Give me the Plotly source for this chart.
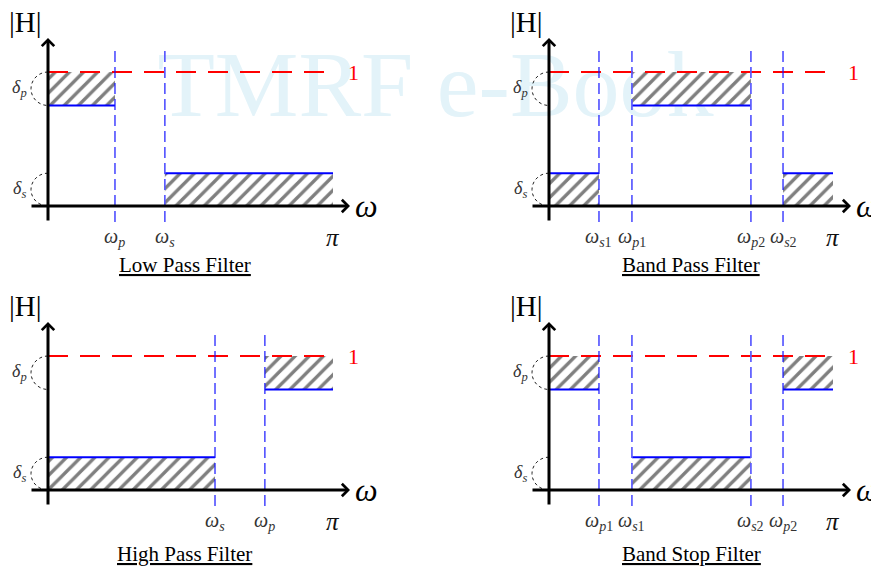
import plotly.graph_objects as go

W, H = 871, 567

# Tolerance scheme (magnitude normalised to unity gain)
unity_gain = 1.0
passband_ripple = 0.25     # delta_p
stopband_level = 0.245     # delta_s

# Band edges, as fractions of pi
lowpass_edges = [0.235, 0.41]
highpass_edges = [0.586, 0.761]
bandpass_edges = [0.176, 0.292, 0.711, 0.824]
bandstop_edges = [0.176, 0.292, 0.711, 0.824]

# Edge names: (letter, index)
lowpass_names = [("p", ""), ("s", "")]
highpass_names = [("s", ""), ("p", "")]
bandpass_names = [("s", "1"), ("p", "1"), ("p", "2"), ("s", "2")]
bandstop_names = [("p", "1"), ("s", "1"), ("s", "2"), ("p", "2")]

# Dashed edge-line shade: True = dark/thin, False = light/thick
lowpass_dark = [True, False]
highpass_dark = [True, True]
bandpass_dark = [True, False, False, True]
bandstop_dark = [True, False, False, True]

titles = ["Low Pass Filter", "Band Pass Filter", "High Pass Filter", "Band Stop Filter"]

lp, hp, bp, bs = lowpass_edges, highpass_edges, bandpass_edges, bandstop_edges
lowpass_bands = [("pass", 0.0, lp[0]), ("stop", lp[1], 1.0)]
highpass_bands = [("stop", 0.0, hp[0]), ("pass", hp[1], 1.0)]
bandpass_bands = [("stop", 0.0, bp[0]), ("pass", bp[1], bp[2]), ("stop", bp[3], 1.0)]
bandstop_bands = [("pass", 0.0, bs[0]), ("stop", bs[1], bs[2]), ("pass", bs[3], 1.0)]

# Panel geometry: pixel origin of (w=0,|H|=0), px per unit, pixel box, title drop
panels = [
    dict(edges=lp, names=lowpass_names, dark=lowpass_dark, bands=lowpass_bands,
         ox=48, oy=206, sx=285, sy=134, box=(0, 435, 0, 283.5), tdrop=59),
    dict(edges=bp, names=bandpass_names, dark=bandpass_dark, bands=bandpass_bands,
         ox=549, oy=206, sx=284, sy=134, box=(436, 871, 0, 283.5), tdrop=59),
    dict(edges=hp, names=highpass_names, dark=highpass_dark, bands=highpass_bands,
         ox=48, oy=490, sx=285, sy=134, box=(0, 435, 283.5, 567), tdrop=64),
    dict(edges=bs, names=bandstop_names, dark=bandstop_dark, bands=bandstop_bands,
         ox=549, oy=490, sx=284, sy=134, box=(436, 871, 283.5, 567), tdrop=64),
]

SERIF = "Liberation Serif"
BLUE = "#0000ff"
DARK_DASH = "#1414ff"
LIGHT_DASH = "#5a5aff"

fig = go.Figure()
layout = dict(
    width=W, height=H, autosize=False,
    margin=dict(l=0, r=0, t=0, b=0),
    paper_bgcolor="white", plot_bgcolor="rgba(0,0,0,0)",
    showlegend=False, barmode="overlay",
)
annotations = []
shapes = []

for i, p in enumerate(panels):
    sfx = "" if i == 0 else str(i + 1)
    xr, yr = "x" + sfx, "y" + sfx
    ox, oy, sx, sy = p["ox"], p["oy"], p["sx"], p["sy"]
    px0, px1, py0, py1 = p["box"]
    layout["xaxis" + sfx] = dict(domain=[px0 / W, px1 / W],
                                 range=[(px0 - ox) / sx, (px1 - ox) / sx],
                                 visible=False, fixedrange=True, anchor=yr)
    layout["yaxis" + sfx] = dict(domain=[1 - py1 / H, 1 - py0 / H],
                                 range=[(oy - py1) / sy, (oy - py0) / sy],
                                 visible=False, fixedrange=True, anchor=xr)

    dx = lambda px: px / sx   # pixel offset -> data units (x)
    dy = lambda px: px / sy   # pixel offset -> data units (y)

    # hatched tolerance regions
    for kind, a, b in p["bands"]:
        if kind == "pass":
            lo, hi, edge = unity_gain - passband_ripple, unity_gain, unity_gain - passband_ripple
        else:
            lo, hi, edge = 0.0, stopband_level, stopband_level
        fig.add_trace(go.Bar(
            x=[(a + b) / 2], y=[hi - lo], base=[lo], width=[b - a],
            marker=dict(color="white", line=dict(width=0),
                        pattern=dict(shape="/", fgcolor="#000000", bgcolor="white",
                                     size=10, solidity=0.34)),
            xaxis=xr, yaxis=yr, hoverinfo="skip"))
        fig.add_trace(go.Scatter(
            x=[a, b], y=[edge, edge], mode="lines",
            line=dict(color=BLUE, width=2), xaxis=xr, yaxis=yr, hoverinfo="skip"))

    # unity-gain reference
    fig.add_trace(go.Scatter(
        x=[0.0, 1.0], y=[unity_gain, unity_gain], mode="lines",
        line=dict(color="#ff0000", width=2, dash="20px,12px"),
        xaxis=xr, yaxis=yr, hoverinfo="skip"))

    # band-edge markers
    for e, (letter, idx), dark in zip(p["edges"], p["names"], p["dark"]):
        fig.add_trace(go.Scatter(
            x=[e, e], y=[dy(-16), dy(156)], mode="lines",
            line=dict(color=DARK_DASH if dark else LIGHT_DASH,
                      width=1.2 if dark else 1.7, dash="11px,5px"),
            xaxis=xr, yaxis=yr, hoverinfo="skip"))
        annotations.append(dict(
            x=e, y=dy(-31), xref=xr, yref=yr, showarrow=False,
            text=f"<i>ω</i><sub><i>{letter}</i>{idx}</sub>",
            font=dict(family=SERIF, size=20, color="#333333")))

    annotations.append(dict(x=1.0, y=dy(-31), xref=xr, yref=yr, showarrow=False,
                            text="<i>π</i>", font=dict(family=SERIF, size=25, color="#111111")))

    # axes with arrowheads
    annotations.append(dict(x=0, y=dy(168), ax=0, ay=dy(-16), xref=xr, yref=yr,
                            axref=xr, ayref=yr, text="", showarrow=True,
                            arrowhead=4, arrowsize=0.8, arrowwidth=3, arrowcolor="black",
                            standoff=0, startstandoff=0))
    annotations.append(dict(x=dx(302), y=0, ax=dx(-18), ay=0, xref=xr, yref=yr,
                            axref=xr, ayref=yr, text="", showarrow=True,
                            arrowhead=4, arrowsize=0.8, arrowwidth=3, arrowcolor="black",
                            standoff=0, startstandoff=0))

    annotations.append(dict(x=dx(-23), y=dy(184), xref=xr, yref=yr, showarrow=False,
                            text="|H|", font=dict(family=SERIF, size=29, color="black")))
    annotations.append(dict(x=dx(318), y=0, xref=xr, yref=yr, showarrow=False,
                            text="<i>ω</i>", font=dict(family=SERIF, size=32, color="black")))
    annotations.append(dict(x=1.0 + dx(20), y=unity_gain, xref=xr, yref=yr, showarrow=False,
                            text="1", font=dict(family=SERIF, size=22, color="#ff0000")))

    # delta brackets
    for lo, hi, sym in [(unity_gain - passband_ripple, unity_gain, "p"),
                        (0.0, stopband_level, "s")]:
        cy, ry, rx, k = (lo + hi) / 2, (hi - lo) / 2, dx(17), 0.5523
        path = (f"M 0,{hi} C {-k * rx},{hi} {-rx},{cy + k * ry} {-rx},{cy} "
                f"C {-rx},{cy - k * ry} {-k * rx},{lo} 0,{lo}")
        shapes.append(dict(type="path", path=path, xref=xr, yref=yr,
                           line=dict(color="#222222", width=1, dash="dot")))
        annotations.append(dict(x=dx(-29), y=cy, xref=xr, yref=yr, showarrow=False,
                                text=f"<i>δ</i><sub><i>{sym}</i></sub>",
                                font=dict(family=SERIF, size=18, color="#333333")))

    annotations.append(dict(x=0.48 if i % 2 == 0 else 0.5, y=dy(-p["tdrop"]), xref=xr, yref=yr,
                            showarrow=False, text=f"<u>{titles[i]}</u>",
                            font=dict(family=SERIF, size=21, color="black")))

# faint publisher mark behind the drawing
shapes.append(dict(type="rect", xref="paper", yref="paper", x0=0.15, x1=0.85,
                   y0=0.78, y1=0.96, layer="below", line=dict(width=0),
                   fillcolor="rgba(0,0,0,0)",
                   label=dict(text="TMRF e-Book", textposition="middle center",
                              font=dict(family=SERIF, size=94, color="#e3f3f9"))))

layout["annotations"] = annotations
layout["shapes"] = shapes
fig.update_layout(**layout)
fig.write_html("out.html")
